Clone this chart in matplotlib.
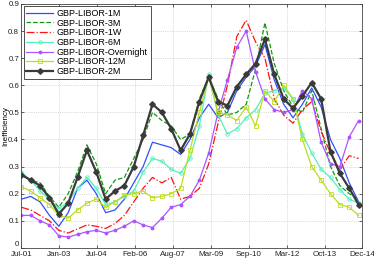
import numpy as np
import matplotlib.pyplot as plt

# tick labels (evenly spaced in time, MATLAB datetick style)
tick_labels = ["Jul-01", "Jan-03", "Jul-04", "Feb-06", "Aug-07",
               "Mar-09", "Sep-10", "Mar-12", "Oct-13", "Dec-14"]
t_start, t_end = 2001.5, 2014.92
tick_pos = np.linspace(t_start, t_end, len(tick_labels))
step = (t_end - t_start) / 9

# sample dates (decimal years), regular sampling
dates = t_start + step * np.linspace(0, 8.9, 37)

libor_1m = [0.18, 0.19, 0.17, 0.12, 0.08, 0.13, 0.22, 0.25, 0.20, 0.13, 0.14, 0.18,
            0.24, 0.30, 0.39, 0.38, 0.37, 0.345, 0.40, 0.48, 0.53, 0.48, 0.50, 0.58,
            0.63, 0.67, 0.75, 0.62, 0.53, 0.48, 0.53, 0.59, 0.52, 0.40, 0.33, 0.24, 0.17]
libor_3m = [0.27, 0.25, 0.24, 0.19, 0.15, 0.20, 0.28, 0.38, 0.31, 0.20, 0.25, 0.26,
            0.33, 0.40, 0.50, 0.47, 0.45, 0.40, 0.42, 0.55, 0.63, 0.55, 0.49, 0.50,
            0.53, 0.66, 0.83, 0.68, 0.58, 0.52, 0.50, 0.58, 0.44, 0.30, 0.23, 0.20, 0.18]
libor_1w = [0.15, 0.14, 0.12, 0.10, 0.065, 0.055, 0.07, 0.085, 0.08, 0.072, 0.09, 0.12,
            0.17, 0.22, 0.26, 0.24, 0.26, 0.18, 0.19, 0.22, 0.31, 0.46, 0.60, 0.78,
            0.84, 0.76, 0.70, 0.55, 0.49, 0.46, 0.51, 0.54, 0.43, 0.35, 0.29, 0.34, 0.33]
libor_6m = [0.28, 0.25, 0.21, 0.18, 0.145, 0.17, 0.22, 0.26, 0.22, 0.16, 0.17, 0.19,
            0.21, 0.28, 0.33, 0.32, 0.29, 0.275, 0.33, 0.45, 0.64, 0.49, 0.42, 0.44,
            0.48, 0.51, 0.57, 0.58, 0.59, 0.55, 0.42, 0.35, 0.29, 0.26, 0.215, 0.18, 0.165]
libor_on = [0.12, 0.12, 0.10, 0.085, 0.045, 0.04, 0.05, 0.06, 0.065, 0.055, 0.065, 0.08,
            0.10, 0.085, 0.075, 0.11, 0.15, 0.16, 0.19, 0.25, 0.35, 0.50, 0.62, 0.74,
            0.80, 0.65, 0.55, 0.51, 0.50, 0.51, 0.58, 0.55, 0.39, 0.31, 0.30, 0.41, 0.47]
libor_12m = [0.225, 0.21, 0.185, 0.16, 0.12, 0.11, 0.14, 0.165, 0.18, 0.15, 0.17, 0.195,
             0.20, 0.21, 0.185, 0.19, 0.20, 0.22, 0.36, 0.50, 0.63, 0.50, 0.49, 0.47,
             0.52, 0.45, 0.58, 0.54, 0.60, 0.55, 0.40, 0.30, 0.25, 0.20, 0.16, 0.15, 0.12]
libor_2m = [0.27, 0.25, 0.23, 0.185, 0.125, 0.165, 0.26, 0.36, 0.28, 0.18, 0.21, 0.23,
            0.30, 0.415, 0.53, 0.50, 0.44, 0.36, 0.42, 0.54, 0.63, 0.54, 0.525, 0.595,
            0.64, 0.68, 0.77, 0.64, 0.55, 0.515, 0.56, 0.61, 0.55, 0.355, 0.275, 0.22, 0.16]

plt.rcParams['font.family'] = ['Liberation Sans', 'DejaVu Sans']

fig = plt.figure(figsize=(3.74, 2.61), dpi=100)
ax = fig.add_axes([0.057, 0.05, 0.912, 0.935])

ax.plot(dates, libor_1m, color="#2f4fff", lw=0.9, label="GBP-LIBOR-1M")
ax.plot(dates, libor_3m, color="#119911", lw=0.9, ls="--", label="GBP-LIBOR-3M")
ax.plot(dates, libor_1w, color="#ff1111", lw=0.9, ls="-.", label="GBP-LIBOR-1W")
ax.plot(dates, libor_6m, color="#55eebb", lw=0.9, marker="o", ms=2.5, mfc="none",
        mew=0.6, label="GBP-LIBOR-6M")
ax.plot(dates, libor_on, color="#aa55ff", lw=0.9, marker=".", ms=3.5,
        label="GBP-LIBOR-Overnight")
ax.plot(dates, libor_12m, color="#bbdd22", lw=0.9, marker="s", ms=2.5, mfc="none",
        mew=0.6, label="GBP-LIBOR-12M")
ax.plot(dates, libor_2m, color="#3a3a3a", lw=1.6, marker="D", ms=2.8, label="GBP-LIBOR-2M")

ax.set_xlim(t_start, t_end)
ax.set_ylim(0, 0.9)
ax.set_xticks(tick_pos)
ax.set_xticklabels(tick_labels)
ax.set_yticks(np.arange(0, 0.91, 0.1))
ax.set_yticklabels(["0"] + [f"{v:.1f}" for v in np.arange(0.1, 0.91, 0.1)])
ax.tick_params(direction="in", length=2.5, width=0.5, labelsize=5.7, pad=1.5,
               top=True, right=True, colors="#222222")
ax.tick_params(axis="x", pad=2.2, labelsize=5.8)
ax.get_yticklabels()[0].set_va("bottom")
ax.grid(True, ls=":", lw=0.5, color="#bbbbbb")
for s in ax.spines.values():
    s.set_linewidth(0.6)
    s.set_color("#444444")
ax.set_ylabel("Inefficiency", fontsize=5.8, va="center")
ax.yaxis.set_label_coords(-0.047, 0.5)

leg = ax.legend(loc="upper left", fontsize=6.5, handlelength=3.0, labelspacing=0.08,
                borderpad=0.3, handletextpad=0.4, fancybox=False, framealpha=1,
                edgecolor="#333333", borderaxespad=0.25)
leg.get_frame().set_linewidth(0.6)

fig.savefig("out.png", dpi=100)
